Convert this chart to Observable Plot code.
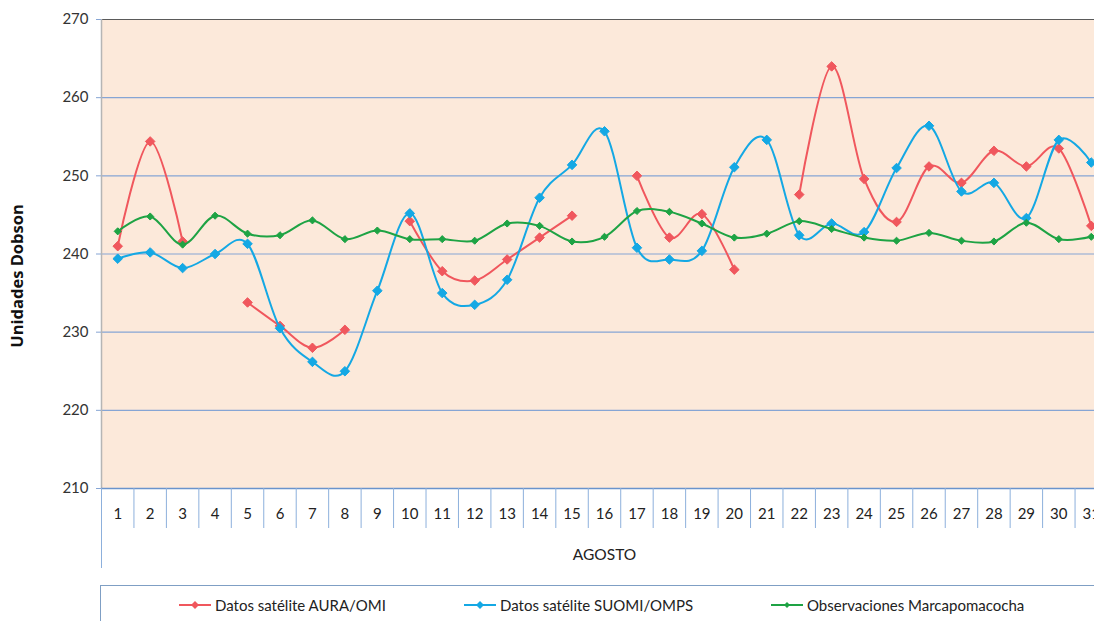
<!DOCTYPE html>
<html>
<head>
<meta charset="utf-8">
<script src="https://cdn.jsdelivr.net/npm/d3@7"></script>
<script src="https://cdn.jsdelivr.net/npm/@observablehq/plot@0.6"></script>
<style>
  html, body { margin: 0; padding: 0; overflow: hidden; background: #fff; width: 1094px; height: 621px; }
  #chart { position: relative; width: 1094px; height: 580px; overflow: hidden; }
  #legend { position: relative; margin-top: 5px; margin-left: 100px; height: 40px;
            border-top: 1.5px solid #7f9fc4; border-left: 1.5px solid #7f9fc4;
            font-family: Lato, "Open Sans", sans-serif; font-size: 15px; color: #222; }
  .item { position: absolute; top: 10px; display: flex; align-items: center; white-space: nowrap; }
  .item svg { margin-right: 4px; }
</style>
</head>
<body>
<div id="chart"></div>
<div id="legend"></div>
<script>
const days = d3.range(1, 32);
const yTicks = [210, 220, 230, 240, 250, 260, 270];
const seriesNames = ["Datos satélite AURA/OMI", "Datos satélite SUOMI/OMPS", "Observaciones Marcapomacocha"];
const seriesColors = ["#f0575d", "#14a8e4", "#1ea344"];
const xLabel = "AGOSTO";
const yLabel = "Unidades Dobson";

const aura = [241.0, 254.4, 241.6, null, 233.8, 230.8, 228.0, 230.3, null, 244.2,
              237.8, 236.6, 239.3, 242.1, 244.9, null, 250.0, 242.1, 245.1, 238.0,
              null, 247.6, 264.0, 249.6, 244.1, 251.2, 249.1, 253.2, 251.2, 253.5, 243.6];
const suomi = [239.4, 240.2, 238.2, 240.0, 241.3, 230.5, 226.2, 225.0, 235.3, 245.2,
               235.0, 233.5, 236.7, 247.2, 251.4, 255.7, 240.8, 239.3, 240.4, 251.1,
               254.6, 242.4, 243.9, 242.8, 251.0, 256.4, 248.0, 249.1, 244.6, 254.6, 251.7];
const marca = [242.9, 244.8, 241.2, 244.9, 242.6, 242.4, 244.3, 241.9, 243.0, 241.9,
               241.9, 241.7, 243.9, 243.6, 241.6, 242.2, 245.5, 245.4, 243.9, 242.1,
               242.6, 244.2, 243.2, 242.1, 241.7, 242.7, 241.7, 241.6, 244.0, 241.9, 242.2];

const seriesValues = [aura, suomi, marca];
const rows = seriesValues.map((vals, s) => days.map((d, i) => ({day: d, value: vals[i], s})));
const seps = days.slice(1).map(d => d - 0.5);
const font = "Lato, 'Open Sans', sans-serif";

const marks = [
  Plot.frame({fill: "#fce9da", stroke: null}),
  Plot.ruleY(yTicks.filter(v => v > 210 && v < 270), {stroke: "#86a5d4", strokeWidth: 1.2}),
  Plot.ruleY([270], {stroke: "#5a5a5a", strokeWidth: 1.2}),
  Plot.ruleX([0.5], {stroke: "#b5b5b5", strokeWidth: 1.5}),
  Plot.axisY(yTicks, {anchor: "left", tickSize: 5, tickPadding: 8, fontSize: 15, fontFamily: font,
                      fill: "#333", stroke: "#86a5d4", label: null}),
  Plot.ruleY([210], {stroke: "#6a93cc", strokeWidth: 1.3}),
  Plot.axisX(seps, {tickSize: 40, tickFormat: () => "", stroke: "#8db0dc", label: null}),
  Plot.axisX([0.5], {tickSize: 80, tickFormat: () => "", stroke: "#8db0dc", label: null}),
  Plot.axisX(days, {tickSize: 0, tickPadding: 20, fontSize: 15, fontFamily: font, fill: "#222", label: null}),
  Plot.text([xLabel], {frameAnchor: "bottom", dx: 0, dy: 71, fontSize: 15.5, fontFamily: font, fill: "#222"}),
  Plot.text([yLabel], {frameAnchor: "left", textAnchor: "middle", dx: -84, dy: 22, rotate: -90, fontSize: 16.5,
                       fontWeight: "bold", fontFamily: "'Open Sans', sans-serif", fill: "#111"})
];

rows.forEach((data, s) => {
  marks.push(Plot.line(data, {x: "day", y: "value", stroke: seriesColors[s], strokeWidth: 2,
                              curve: "cardinal", tension: 0}));
  marks.push(Plot.dot(data.filter(d => d.value != null), {x: "day", y: "value", symbol: "diamond2",
                              fill: seriesColors[s], stroke: seriesColors[s], strokeWidth: 1,
                              r: s === 2 ? 3.2 : 4.3}));
});

const chart = Plot.plot({
  width: 1110,
  height: 580,
  marginLeft: 101,
  marginRight: 3,
  marginTop: 19,
  marginBottom: 92,
  style: {maxWidth: "none", background: "transparent", overflow: "visible"},
  x: {type: "linear", domain: [0.5, 31.5], axis: null},
  y: {domain: [210, 270], axis: null},
  marks
});
document.getElementById("chart").appendChild(chart);

const legend = document.getElementById("legend");
const lefts = [78, 363, 670];
seriesNames.forEach((name, s) => {
  const item = document.createElement("div");
  item.className = "item";
  item.style.left = lefts[s] + "px";
  const w = 32;
  const r = s === 2 ? 3 : 4;
  item.innerHTML = `<svg width="${w}" height="14"><line x1="0" x2="${w}" y1="7" y2="7" stroke="${seriesColors[s]}" stroke-width="2"/>` +
    `<path d="M${w/2},${7-r}L${w/2+r},7L${w/2},${7+r}L${w/2-r},7Z" fill="${seriesColors[s]}"/></svg><span>${name}</span>`;
  legend.appendChild(item);
});
</script>
</body>
</html>
